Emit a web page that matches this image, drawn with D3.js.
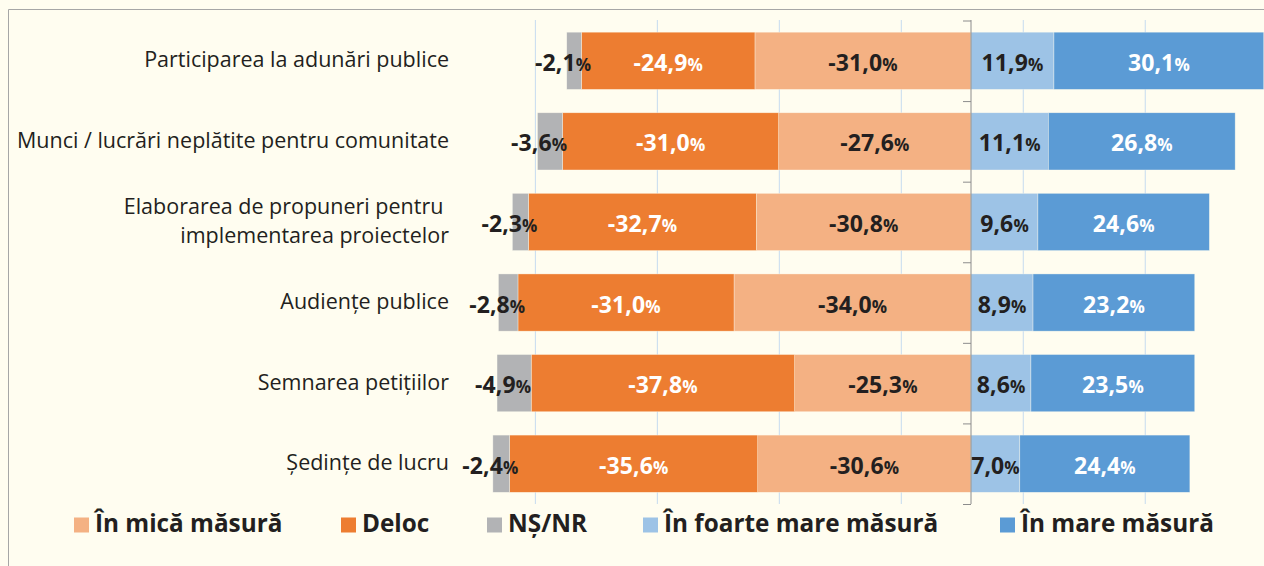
<!DOCTYPE html>
<html>
<head>
<meta charset="utf-8">
<script src="https://cdn.jsdelivr.net/npm/d3@7"></script>
<style>
  body { margin: 0; background: #fffdf0; }
  svg { display: block; font-family: "Open Sans", "Noto Sans", sans-serif; }
</style>
</head>
<body>
<svg id="chart"></svg>
<script>
// The data
var categories = [
    ["Participarea la adunări publice"],
    ["Munci / lucrări neplătite pentru comunitate"],
    ["Elaborarea de propuneri pentru ", "implementarea proiectelor"],
    ["Audiențe publice"],
    ["Semnarea petițiilor"],
    ["Ședințe de lucru"]
];
var nsnr     = [-2.1, -3.6, -2.3, -2.8, -4.9, -2.4];
var deloc    = [-24.9, -31.0, -32.7, -31.0, -37.8, -35.6];
var mica     = [-31.0, -27.6, -30.8, -34.0, -25.3, -30.6];
var foarte   = [11.9, 11.1, 9.6, 8.9, 8.6, 7.0];
var mare     = [30.1, 26.8, 24.6, 23.2, 23.5, 24.4];
var gridValues = [-62.5, -45, -27.5, -10, 7.5, 25];

var legendNames = ["În mică măsură", "Deloc", "NȘ/NR", "În foarte mare măsură", "În mare măsură"];

var width = 1264;
var height = 566;

var svg = d3.select("#chart")
            .attr("width", width)
            .attr("height", height);

// frame
svg.append("path")
    .attr("d", "M8.5," + height + "V9.5H" + width)
    .attr("fill", "none")
    .attr("stroke", "#a6a6a6");

// scales
const x = d3.scaleLinear()
    .domain([-70, 45])
    .range([971 - 70 * 6.97, 971 + 45 * 6.97]);

const y = d3.scaleBand()
    .domain(d3.range(categories.length))
    .range([20.5, 504])
    .paddingInner(0.29)
    .paddingOuter(0.145);

// series, from the axis outward
var series = [
    { name: "mica",   values: mica,   color: "#f4b183", text: "#231f20", shift: 0 },
    { name: "deloc",  values: deloc,  color: "#ed7d31", text: "#ffffff", shift: 0 },
    { name: "nsnr",   values: nsnr,   color: "#b2b3b5", text: "#231f20", shift: -11 },
    { name: "foarte", values: foarte, color: "#9dc3e6", text: "#231f20", shift: 0 },
    { name: "mare",   values: mare,   color: "#5b9bd5", text: "#ffffff", shift: 0 }
];

// build segments with start / end
var segments = [];
categories.forEach(function(c, i){
    var neg = 0, pos = 0;
    series.forEach(function(s){
        var v = s.values[i];
        var x0, x1;
        if (v < 0) { x0 = neg + v; x1 = neg; neg = x0; }
        else { x0 = pos; x1 = pos + v; pos = x1; }
        segments.push({ row: i, v: v, x0: x0, x1: x1, s: s });
    });
});

// gridlines
svg.append("g")
    .selectAll("line")
    .data(gridValues)
    .join("line")
    .attr("x1", d => x(d)).attr("x2", d => x(d))
    .attr("y1", 20).attr("y2", 504)
    .attr("stroke", "#c6dbef")
    .attr("stroke-width", 1);

// bars
svg.append("g")
    .selectAll("rect")
    .data(segments)
    .join("rect")
    .attr("x", d => x(d.x0))
    .attr("width", d => x(d.x1) - x(d.x0))
    .attr("y", d => y(d.row))
    .attr("height", y.bandwidth())
    .attr("fill", d => d.s.color)
    .attr("stroke", "#fffdf0")
    .attr("stroke-width", 0.6)
    .attr("stroke-opacity", 0.6);

// zero axis with ticks between categories
var axisG = svg.append("g")
    .attr("transform", "translate(" + x(0) + ",0)");
axisG.append("line")
    .attr("y1", 20).attr("y2", 504)
    .attr("stroke", "#8c8c8c");
axisG.selectAll(".tk")
    .data(d3.range(categories.length + 1))
    .join("line")
    .attr("class", "tk")
    .attr("x1", -8).attr("x2", 0)
    .attr("y1", d => y.step() * d + 21)
    .attr("y2", d => y.step() * d + 21)
    .attr("stroke", "#8c8c8c");

// value labels
function fmt(v){ return v.toFixed(1).replace(".", ","); }
var lbl = svg.append("g")
    .selectAll("text")
    .data(segments)
    .join("text")
    .attr("x", d => (x(d.x0) + x(d.x1)) / 2 + d.s.shift)
    .attr("y", d => y(d.row) + y.bandwidth() / 2 + 10)
    .attr("text-anchor", "middle")
    .attr("fill", d => d.s.text)
    .attr("font-weight", "bold")
    .attr("font-size", 23)
    .attr("letter-spacing", 0.1);
lbl.append("tspan").text(d => fmt(d.v));
lbl.append("tspan").attr("font-size", 17).attr("letter-spacing", 0).text("%");

// category labels
svg.append("g")
    .selectAll("text")
    .data(categories)
    .join("text")
    .attr("text-anchor", "end")
    .attr("font-size", 21.5)
    .attr("fill", "#231f20")
    .style("white-space", "pre")
    .each(function(lines, i){
        var t = d3.select(this);
        var cy = y(i) + y.bandwidth() / 2;
        lines.forEach(function(l, j){
            t.append("tspan")
                .attr("x", 449)
                .attr("y", cy + 6.5 + (j - (lines.length - 1) / 2) * 29.5)
                .text(l);
        });
    });

// legend
var legendX = [74, 341, 487, 643, 1000];
var legendColors = series.map(s => s.color);
var leg = svg.append("g")
    .selectAll("g")
    .data(legendNames)
    .join("g")
    .attr("transform", (d, i) => "translate(" + legendX[i] + ",522)");
leg.append("rect")
    .attr("x", 0).attr("y", -4.5)
    .attr("width", 15).attr("height", 15)
    .attr("fill", (d, i) => legendColors[i]);
leg.append("text")
    .attr("x", 21).attr("y", 9.5)
    .attr("font-size", 24.3)
    .attr("font-weight", "bold")
    .attr("fill", "#231f20")
    .text(d => d);
</script>
</body>
</html>
